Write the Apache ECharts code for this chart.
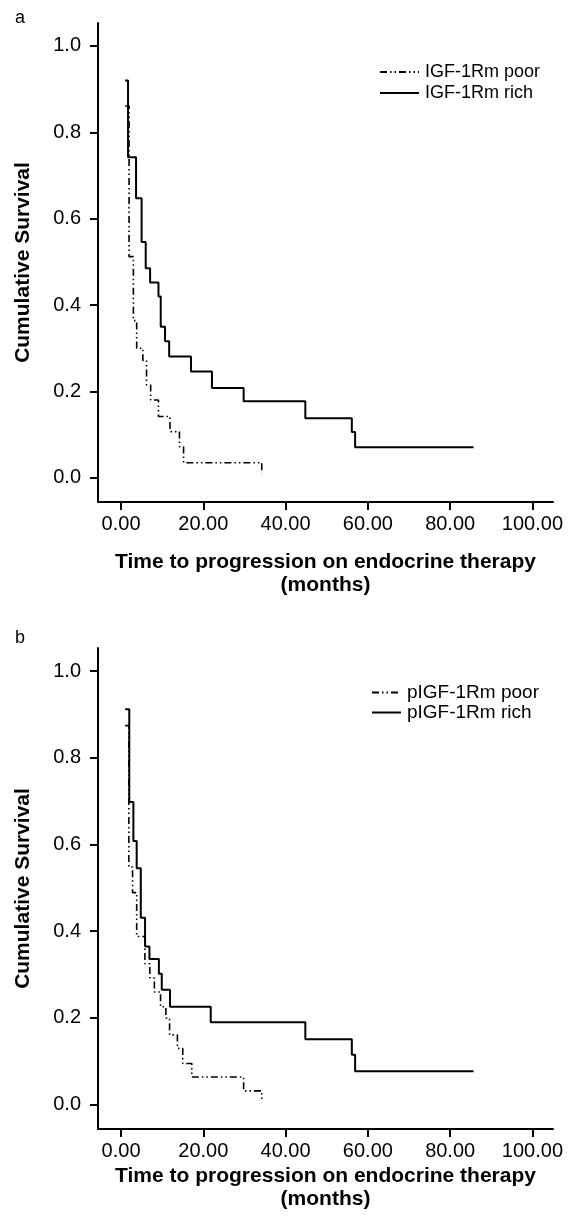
<!DOCTYPE html>
<html>
<head>
<meta charset="utf-8">
<script src="https://cdn.jsdelivr.net/npm/echarts@6/dist/echarts.min.js"></script>
<style>
  html, body { margin: 0; padding: 0; background: #fff; }
  #chart { width: 568px; height: 1224px; }
</style>
</head>
<body>
<div id="chart"></div>
<script>
  // panel a: IGF-1Rm
  const richA_t = [1.0, 1.7, 3.65, 5.0, 6.0, 7.06, 9.1, 9.65, 10.7, 11.7, 17.0, 22.1, 29.8, 44.8, 56.1, 56.9, 85.7]
  const richA_s = [0.92, 0.742, 0.647, 0.546, 0.485, 0.452, 0.42, 0.35, 0.316, 0.281, 0.246, 0.208, 0.177, 0.138, 0.106, 0.071, 0.071]
  const poorA_t = [1.0, 1.95, 3.0, 3.8, 5.3, 6.2, 7.2, 9.1, 11.9, 14.2, 15.2, 34.2, 34.2]
  const poorA_s = [0.861, 0.512, 0.364, 0.30, 0.272, 0.215, 0.18, 0.142, 0.107, 0.072, 0.035, 0.035, 0.01]

  // panel b: pIGF-1Rm
  const richB_t = [1.0, 2.0, 3.0, 3.8, 4.8, 5.84, 6.9, 9.2, 9.9, 11.9, 21.8, 44.8, 56.1, 56.9, 85.7]
  const richB_s = [0.912, 0.698, 0.608, 0.545, 0.431, 0.365, 0.336, 0.302, 0.265, 0.226, 0.19, 0.151, 0.115, 0.077, 0.077]
  const poorB_t = [1.0, 1.9, 2.8, 3.8, 5.8, 7.0, 8.1, 9.6, 10.9, 11.8, 13.7, 15.0, 17.2, 29.8, 34.2, 34.2]
  const poorB_s = [0.874, 0.548, 0.489, 0.388, 0.325, 0.292, 0.26, 0.226, 0.2, 0.161, 0.13, 0.095, 0.064, 0.032, 0.032, 0.01]

  const namesA = ['IGF-1Rm poor', 'IGF-1Rm rich']
  const namesB = ['pIGF-1Rm poor', 'pIGF-1Rm rich']
  const xTicks = [0, 20, 40, 60, 80, 100]
  const yTicks = [0, 0.2, 0.4, 0.6, 0.8, 1.0]
  const xTitle = 'Time to progression on endocrine therapy\n(months)'
  const yTitle = 'Cumulative Survival'

  const FONT = '"Liberation Sans", Arial, sans-serif'
  const POOR_DASH = [7, 3, 1.5, 3, 1.5, 3]

  function pairs (t, s) {
    return t.map((v, i) => [v, s[i]])
  }

  function xAxisFor (gridIndex, gap) {
    return {
      type: 'value',
      gridIndex,
      min: -5.6,
      max: 105,
      name: xTitle,
      nameLocation: 'middle',
      nameGap: gap,
      nameTextStyle: { fontSize: 21, fontWeight: 'bold', color: '#000', lineHeight: 23 },
      axisLine: { show: true, onZero: false, lineStyle: { color: '#000', width: 2 } },
      axisTick: { show: true, length: 8, lineStyle: { color: '#000', width: 2 }, customValues: xTicks },
      axisLabel: { fontSize: 20, color: '#000', margin: 12, customValues: xTicks, formatter: v => v.toFixed(2) },
      splitLine: { show: false }
    }
  }

  function yAxisFor (gridIndex) {
    return {
      type: 'value',
      gridIndex,
      min: -0.056,
      max: 1.053,
      name: yTitle,
      nameLocation: 'middle',
      nameGap: 64,
      nameTextStyle: { fontSize: 21, fontWeight: 'bold', color: '#000' },
      axisLine: { show: true, onZero: false, lineStyle: { color: '#000', width: 2 } },
      axisTick: { show: true, length: 8, lineStyle: { color: '#000', width: 2 }, customValues: yTicks },
      axisLabel: { fontSize: 20, color: '#000', margin: 17, customValues: yTicks, formatter: v => v.toFixed(1) },
      splitLine: { show: false }
    }
  }

  function poorSeries (name, idx, data) {
    return {
      name,
      type: 'line',
      step: 'end',
      xAxisIndex: idx,
      yAxisIndex: idx,
      symbol: 'none',
      z: 3,
      lineStyle: { color: '#000', width: 1.6, type: POOR_DASH },
      itemStyle: { color: '#000' },
      data
    }
  }

  function richSeries (name, idx, data) {
    return {
      name,
      type: 'line',
      step: 'end',
      xAxisIndex: idx,
      yAxisIndex: idx,
      symbol: 'none',
      z: 2,
      lineStyle: { color: '#000', width: 2 },
      itemStyle: { color: '#000' },
      data
    }
  }

  const chart = echarts.init(document.getElementById('chart'))
  chart.setOption({
    animation: false,
    backgroundColor: '#fff',
    textStyle: { fontFamily: FONT, color: '#000' },
    title: [
      { text: 'a', left: 10, top: 4, textStyle: { fontSize: 18, fontWeight: 'normal', color: '#000' } },
      { text: 'b', left: 10, top: 624, textStyle: { fontSize: 18, fontWeight: 'normal', color: '#000' } }
    ],
    legend: [
      {
        data: namesA,
        orient: 'vertical',
        left: 374,
        top: 58,
        itemWidth: 39,
        itemHeight: 14,
        itemGap: 3,
        itemStyle: { opacity: 0 },
        textStyle: { fontSize: 18, color: '#000', padding: [0, 0, 0, 1] }
      },
      {
        data: namesB,
        orient: 'vertical',
        left: 366,
        top: 678,
        itemWidth: 29,
        itemHeight: 14,
        itemGap: 1,
        itemStyle: { opacity: 0 },
        textStyle: { fontSize: 19, color: '#000', padding: [0, 0, 0, 1] }
      }
    ],
    grid: [
      { left: 98, top: 23, width: 455, height: 479 },
      { left: 98, top: 648, width: 455, height: 481 }
    ],
    xAxis: [xAxisFor(0, 49), xAxisFor(1, 36)],
    yAxis: [yAxisFor(0), yAxisFor(1)],
    series: [
      poorSeries(namesA[0], 0, pairs(poorA_t, poorA_s)),
      richSeries(namesA[1], 0, pairs(richA_t, richA_s)),
      poorSeries(namesB[0], 1, pairs(poorB_t, poorB_s)),
      richSeries(namesB[1], 1, pairs(richB_t, richB_s))
    ]
  })
</script>
</body>
</html>
